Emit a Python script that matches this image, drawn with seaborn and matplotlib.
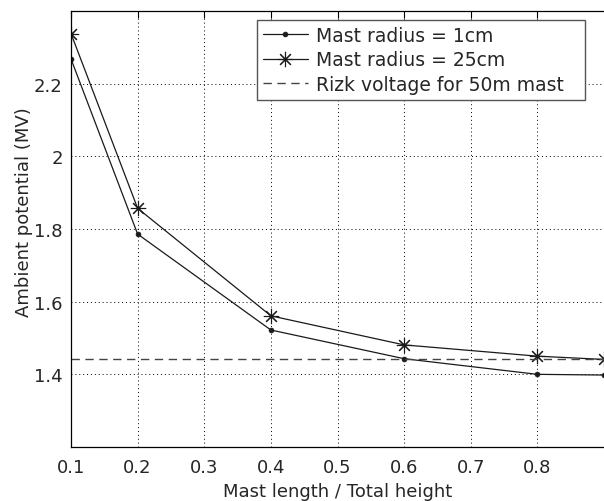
import matplotlib
matplotlib.use("Agg")
import matplotlib.pyplot as plt
import seaborn as sns
import pandas as pd

# data
ratio = [0.1, 0.2, 0.4, 0.6, 0.8, 0.9]
radius_1cm = [2.268, 1.786, 1.522, 1.443, 1.400, 1.398]
radius_25cm = [2.338, 1.857, 1.561, 1.481, 1.450, 1.441]
rizk_voltage = 1.443
xticks = [0.1, 0.2, 0.3, 0.4, 0.5, 0.6, 0.7, 0.8]
yticks = [1.4, 1.6, 1.8, 2.0, 2.2]

sns.set_style("white")
plt.rcParams['font.family'] = ['DejaVu Sans']

df = pd.DataFrame({'ratio': ratio, 'r1': radius_1cm, 'r25': radius_25cm})

fig = plt.figure(figsize=(6.04, 5.02), dpi=100)
ax = fig.add_axes([71/604, 54/502, 533/604, 436/502])

ink = '#1a1a1a'
sns.lineplot(data=df, x='ratio', y='r1', ax=ax, color=ink, lw=0.9,
             marker='o', markersize=3.5, markeredgewidth=0.5,
             markeredgecolor=ink, label='Mast radius = 1cm')
sns.lineplot(data=df, x='ratio', y='r25', ax=ax, color=ink, lw=0.9,
             marker=(8, 2, 0), markersize=11, markeredgewidth=0.8,
             markeredgecolor=ink, label='Mast radius = 25cm')
ax.axhline(rizk_voltage, color='#444444', lw=1.0, ls=(0, (6, 4)),
           label='Rizk voltage for 50m mast')

ax.set_xlim(0.1, 0.9)
ax.set_ylim(1.2, 2.4)
ax.set_xticks(xticks)
ax.set_yticks(yticks)
ax.set_xticklabels([f"{t:g}" for t in xticks])
ax.set_yticklabels([f"{t:g}" for t in yticks])
ax.tick_params(axis='x', pad=8)
ax.tick_params(axis='y', pad=6)
ax.tick_params(direction='in', length=5, width=0.8, labelsize=13, top=True,
               right=False, color='black')
ax.grid(True, color='black', ls=(0, (1, 3)), lw=0.7)
for s in ax.spines.values():
    s.set_color('black')
    s.set_linewidth(0.9)
# the reference is cropped at the right edge of the axes box
ax.spines['right'].set_visible(False)

ax.set_xlabel('Mast length / Total height', fontsize=13, labelpad=4)
ax.set_ylabel('Ambient potential (MV)', fontsize=13)
ax.yaxis.set_label_coords(-0.072, 0.54)

leg = ax.legend(loc='upper right', bbox_to_anchor=(0.3496, 0.5, 0.6144, 0.479),
                mode='expand', fontsize=13.5, frameon=True, fancybox=False,
                edgecolor='#555555', handlelength=2.4, borderpad=0.3,
                labelspacing=0.3, handletextpad=0.45, borderaxespad=0)
leg.get_frame().set_linewidth(1.0)
leg.get_frame().set_alpha(1)

fig.savefig('out.png', dpi=100)
